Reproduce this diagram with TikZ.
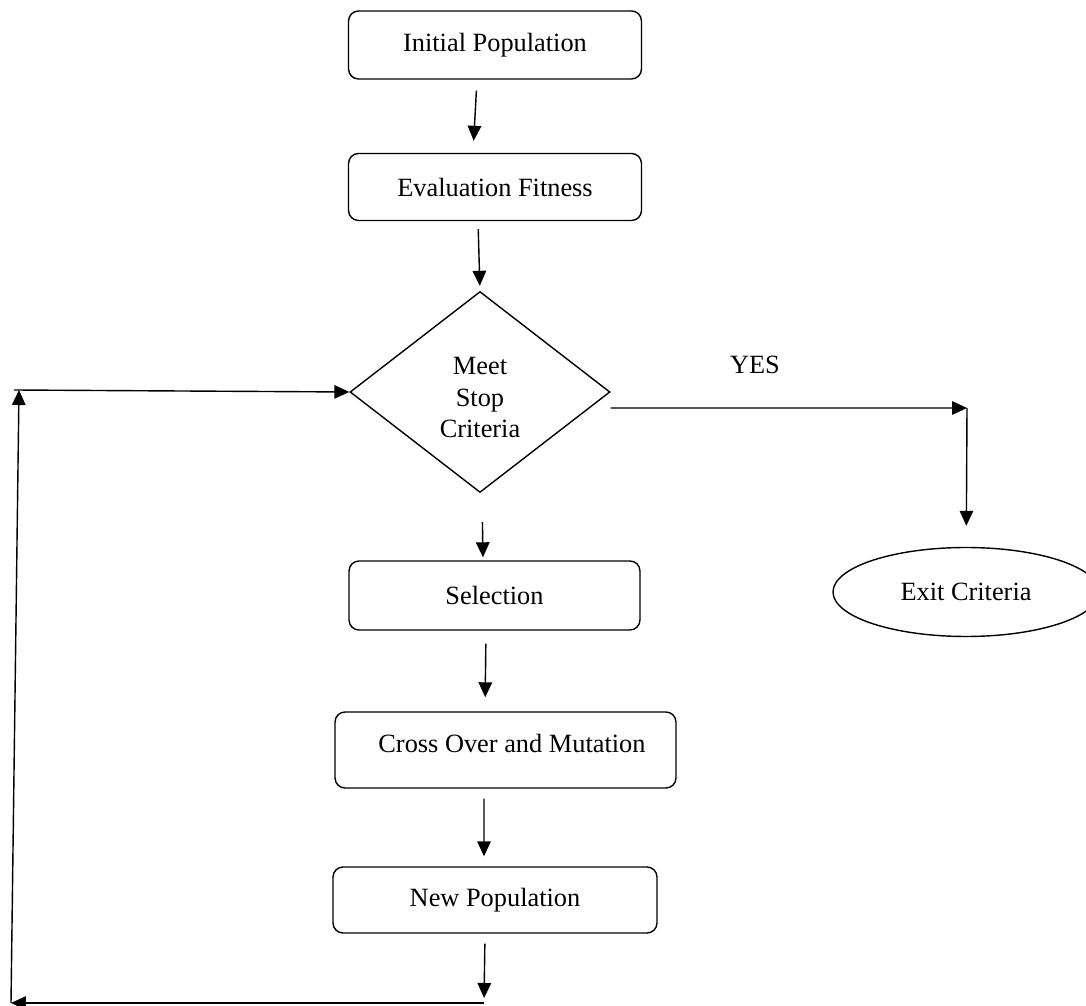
\documentclass[tikz,border=0pt]{standalone}
\usepackage{fontspec}
\setmainfont{Liberation Serif}
\usetikzlibrary{shapes,arrows.meta,positioning,calc}

\begin{document}
\begin{tikzpicture}[x=0.02cm, y=-0.02cm, line width=0.8pt,
  >={Triangle[length=0.3cm, width=0.27cm]},
  font=\fontsize{15}{18}\selectfont,
  flowbox/.style={draw, rectangle, rounded corners=0.2cm, align=center, inner sep=0pt},
  decision/.style={draw, diamond, align=center, inner sep=0pt},
  terminal/.style={draw, ellipse, inner sep=0pt}]
\useasboundingbox (0,0) rectangle (1086,1006);

% Initial Population
\node[flowbox, minimum width=5.86cm, minimum height=1.36cm] (init) at (495,45) {Initial Population};

% Evaluation Fitness
\node[flowbox, minimum width=5.86cm, minimum height=1.34cm] (eval) at (495,187) {Evaluation Fitness};

% Meet Stop Criteria
\node[decision, minimum width=5.2cm, minimum height=4.02cm] (decide) at (480,392) {\rule{0pt}{0.58cm}Meet\\Stop\\Criteria};

% Exit Criteria
\node[terminal, minimum width=5.32cm, minimum height=1.78cm] (exit) at (966,592) {Exit Criteria};
\node (yes) at (755,365) {YES};
\coordinate (yesR) at (967,408);

% Selection
\node[flowbox, minimum width=5.82cm, minimum height=1.38cm] (select) at (494.5,595.5) {Selection};

% Cross Over and Mutation
\node[flowbox, minimum width=6.82cm, minimum height=1.52cm, text depth=0.28cm] (cross) at (505.5,750) {\hspace*{0.26cm}Cross Over and Mutation};

% New Population
\node[flowbox, minimum width=6.48cm, minimum height=1.32cm] (newpop) at (495,900) {New Population};

% loop back
\coordinate (loopBR) at (484,1003);
\coordinate (loopBL) at (11,1003);
\coordinate (loopTL) at (19,390);

% arrows
\draw[->, shorten <=0.22cm, shorten >=0.24cm] ([xshift=-0.36cm]init.south) -- ([xshift=-0.44cm]eval.north);
\draw[->, shorten <=0.16cm, shorten >=0.1cm] ([xshift=-0.34cm]eval.south) -- (decide.north);
\draw[->, shorten <=0.58cm, shorten >=0.06cm] ([xshift=0.04cm]decide.south) -- ([xshift=-0.23cm]select.north);
\draw[->, shorten <=0.26cm, shorten >=0.28cm] ([xshift=-0.17cm]select.south) -- ([xshift=-0.41cm]cross.north);
\draw[->, shorten <=0.2cm, shorten >=0.2cm] ([xshift=-0.43cm]cross.south) -- ([xshift=-0.22cm]newpop.north);
\draw[->, shorten <=0.2cm, shorten >=0.1cm] ([xshift=-0.2cm]newpop.south) -- (loopBR);
\draw[->] (loopBR) -- (loopBL);
\draw[->] (loopBL) -- (loopTL);
\draw[->] ([xshift=-0.1cm]loopTL) -- (decide.west);
\draw[->] ([yshift=-0.32cm]decide.east) -- (yesR);
\draw[->, shorten >=0.42cm] (yesR) -- (exit);
\end{tikzpicture}
\end{document}
